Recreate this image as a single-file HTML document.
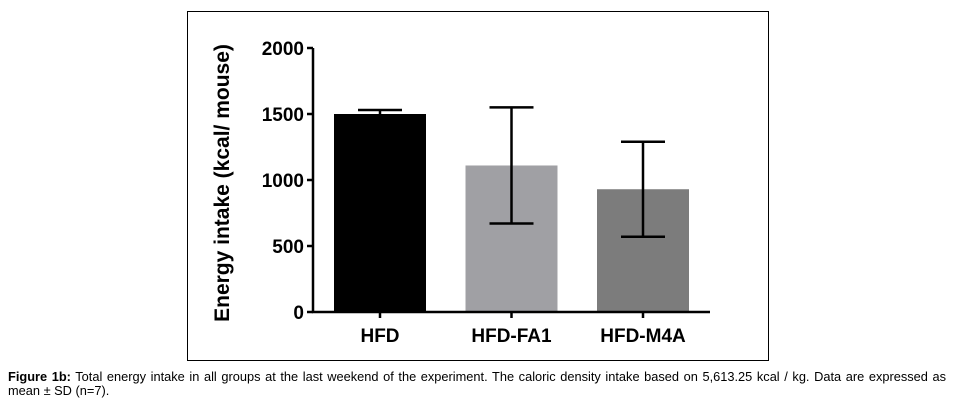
<!DOCTYPE html>
<html><head><meta charset="utf-8"><style>
body{margin:0;background:#fff;width:955px;height:406px;overflow:hidden;font-family:"Liberation Sans",sans-serif}
#frame{position:absolute;left:187px;top:11px;width:582px;height:350px;border:1px solid #000;box-sizing:border-box}
#cap{position:absolute;left:8px;top:370px;width:938px;font-size:12.8px;line-height:14px;color:#000}
#cap .l1{display:block;text-align:justify;text-align-last:justify}
</style></head><body>
<div id="frame"></div>
<svg id="chart" width="955" height="406" style="position:absolute;left:0;top:0"></svg>
<div id="cap"><span class="l1"><b>Figure 1b:</b> Total energy intake in all groups at the last weekend of the experiment. The caloric density intake based on 5,613.25 kcal / kg. Data are expressed as</span>mean ± SD (n=7).</div>
<script>
const categories=["HFD","HFD-FA1","HFD-M4A"];
const means=[1500,1110,930];
const sds=[30,440,360];
const colors=["#000000","#a0a0a4","#7c7c7c"];
const yTicks=[0,500,1000,1500,2000];
const NS="http://www.w3.org/2000/svg";
const svg=document.getElementById('chart');
const y0=312,y1=48,xAxis=313,xEnd=710;
function y(v){return y0-(v/2000)*(y0-y1);}
function xc(i){return 380+i*131.5;}
const bw=92;
function el(t,a,p){const e=document.createElementNS(NS,t);for(const k in a)e.setAttribute(k,a[k]);(p||svg).appendChild(e);return e;}
categories.forEach((c,i)=>{
  const r=el('rect',{x:xc(i)-bw/2,y:y(means[i]),width:bw,height:y0-y(means[i]),fill:colors[i]});
  
  
  const g=el('g',{stroke:'#000','stroke-width':2.5});
  
  
  el('line',{x1:xc(i),x2:xc(i),y1:y(means[i]-sds[i]),y2:y(means[i]+sds[i])},g);
  el('line',{x1:xc(i)-22,x2:xc(i)+22,y1:y(means[i]+sds[i]),y2:y(means[i]+sds[i])},g);
  el('line',{x1:xc(i)-22,x2:xc(i)+22,y1:y(means[i]-sds[i]),y2:y(means[i]-sds[i])},g);
  el('line',{x1:xc(i),x2:xc(i),y1:y0,y2:y0+6},g);
  const t=el('text',{x:xc(i),y:342,'text-anchor':'middle','font-size':19,'font-weight':'bold'});
  t.textContent=c;
  
  
});
const ax=el('path',{d:`M${xAxis} ${y1}V${y0}H${xEnd}`,stroke:'#000','stroke-width':2.5,fill:'none'});


yTicks.forEach(v=>{
  el('line',{x1:xAxis-6,x2:xAxis,y1:y(v),y2:y(v),stroke:'#000','stroke-width':2.5});
  const t=el('text',{x:xAxis-9,y:y(v)+7,'text-anchor':'end','font-size':19,'font-weight':'bold'});
  t.textContent=v;
  
  
});
const yt=el('text',{x:0,y:0,transform:'translate(229,183) rotate(-90)','text-anchor':'middle','font-size':21,'font-weight':'bold'});
yt.textContent="Energy intake (kcal/ mouse)";


</script>
</body></html>
